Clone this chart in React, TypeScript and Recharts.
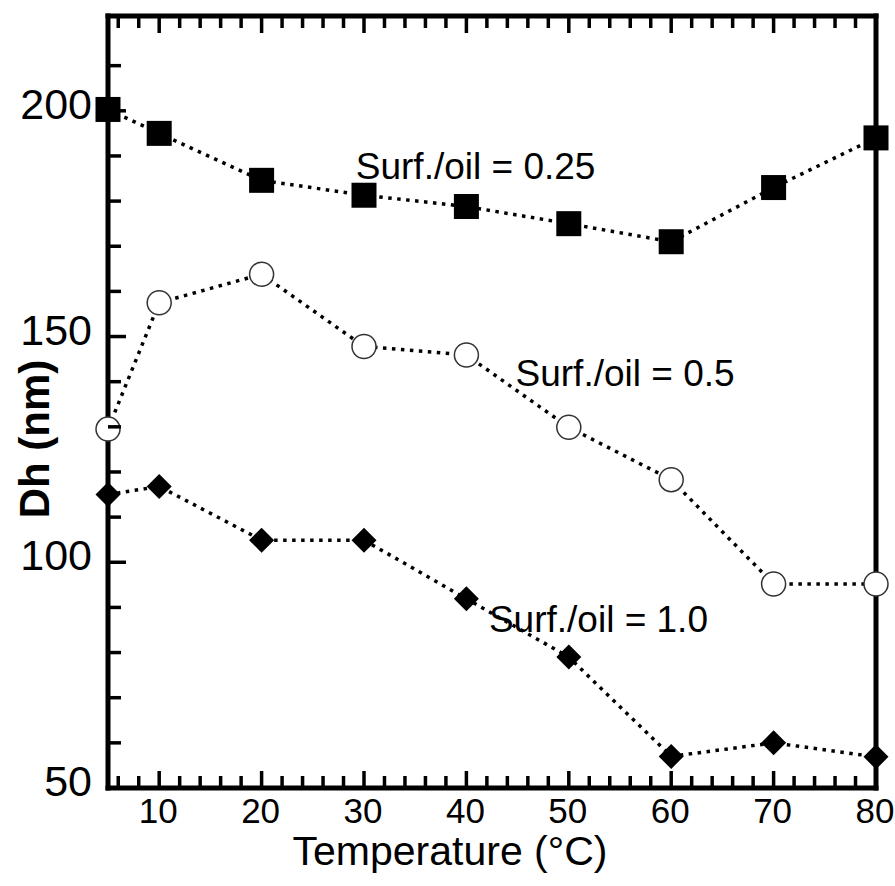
import React from 'react';
import { LineChart, Line, XAxis, YAxis, ReferenceDot } from 'recharts';

// Hydrodynamic diameter vs temperature for three surfactant/oil ratios
const temperatures = [5, 10, 20, 30, 40, 50, 60, 70, 80];
const dhRatio025 = [200.3, 195, 184.6, 181.3, 178.8, 175, 171, 183, 194];
const dhRatio05 = [129.5, 157.5, 163.8, 147.8, 145.9, 129.9, 118.3, 95.2, 95.2];
const dhRatio10 = [115, 116.8, 104.9, 104.9, 91.9, 79, 57, 60, 56.9];

const xTicks = [6, 8, 10, 12, 14, 16, 18, 20, 22, 24, 26, 28, 30, 32, 34, 36, 38, 40, 42, 44, 46, 48, 50, 52, 54, 56, 58, 60, 62, 64, 66, 68, 70, 72, 74, 76, 78, 80];
const yTicks = [50, 60, 70, 80, 90, 100, 110, 120, 130, 140, 150, 160, 170, 180, 190, 200, 210];

const seriesLabels = ['Surf./oil = 0.25', 'Surf./oil = 0.5', 'Surf./oil = 1.0'];
const seriesLabelX = [29.2, 44.8, 42.2];
const seriesLabelY = [184.9, 139.1, 84.5];

const data = temperatures.map((t, i) => ({
  t,
  r025: dhRatio025[i],
  r05: dhRatio05[i],
  r10: dhRatio10[i],
}));

const FONT = '"Liberation Sans", Arial, Helvetica, sans-serif';
const TICK_W = 3.5;

const BottomTick = (props: any) => {
  const { x, y, payload } = props;
  const major = payload.value % 10 === 0;
  return (
    <g>
      <line x1={x} x2={x} y1={y} y2={y - (major ? 17 : 12)} stroke="#000" strokeWidth={TICK_W} />
      {major && (
        <text x={x - 1} y={y + 35} textAnchor="middle" fontSize={35} fontFamily={FONT} fill="#000">
          {payload.value}
        </text>
      )}
    </g>
  );
};

const TopTick = (props: any) => {
  const { x, y, payload } = props;
  const major = payload.value % 10 === 0;
  return <line x1={x} x2={x} y1={y} y2={y + (major ? 17 : 12)} stroke="#000" strokeWidth={TICK_W} />;
};

const LeftTick = (props: any) => {
  const { x, y, payload } = props;
  const major = payload.value % 50 === 0;
  return (
    <g>
      <line x1={x} x2={x + (major ? 18 : 13)} y1={y} y2={y} stroke="#000" strokeWidth={TICK_W} />
      {major && (
        <text x={x - 16} y={y + 8} textAnchor="end" fontSize={43} fontFamily={FONT} fill="#000">
          {payload.value}
        </text>
      )}
    </g>
  );
};

const RightTick = (props: any) => {
  const { x, y, payload } = props;
  const major = payload.value % 50 === 0;
  return <line x1={x} x2={x - (major ? 18 : 13)} y1={y} y2={y} stroke="#000" strokeWidth={TICK_W} />;
};

const squareDot = (p: any) => (
  <rect key={`sq-${p.index}`} x={p.cx - 12.5} y={p.cy - 12.5} width={25} height={25} fill="#000" />
);

const circleDot = (p: any) => (
  <circle key={`ci-${p.index}`} cx={p.cx} cy={p.cy} r={12} fill="#fff" stroke="#333" strokeWidth={1.5} />
);

const diamondDot = (p: any) => (
  <path
    key={`di-${p.index}`}
    d={`M${p.cx},${p.cy - 12.5} L${p.cx + 12.5},${p.cy} L${p.cx},${p.cy + 12.5} L${p.cx - 12.5},${p.cy} Z`}
    fill="#000"
  />
);

const axisLineStyle = { stroke: '#000', strokeWidth: 5, strokeLinecap: 'square' as const };

export default function App() {
  return (
    <div style={{ position: 'absolute', left: 0, top: 0, width: 895, height: 886, background: '#fff' }}>
      <LineChart width={895} height={886} data={data} margin={{ top: 0, right: 0, bottom: 0, left: 0 }}>
        <XAxis
          xAxisId="bottom"
          dataKey="t"
          type="number"
          domain={[5, 80]}
          ticks={xTicks}
          interval={0}
          height={98}
          tickSize={0}
          tickMargin={0}
          tickLine={false}
          axisLine={axisLineStyle}
          tick={<BottomTick />}
          label={{
            content: (lp: any) => {
              const vb = lp.viewBox;
              return (
                <text x={vb.x + vb.width / 2 - 42} y={vb.y + 77} textAnchor="middle" fontSize={41} fontFamily={FONT} fill="#000">
                  Temperature (°C)
                </text>
              );
            },
          }}
        />
        <XAxis
          xAxisId="top"
          orientation="top"
          dataKey="t"
          type="number"
          domain={[5, 80]}
          ticks={xTicks}
          interval={0}
          height={16}
          tickSize={0}
          tickMargin={0}
          tickLine={false}
          axisLine={axisLineStyle}
          tick={<TopTick />}
        />
        <YAxis
          yAxisId="left"
          type="number"
          domain={[50, 221]}
          ticks={yTicks}
          interval={0}
          width={108}
          tickSize={0}
          tickMargin={0}
          tickLine={false}
          axisLine={axisLineStyle}
          tick={<LeftTick />}
          label={{
            content: (lp: any) => {
              const vb = lp.viewBox;
              const cx = vb.x + 34;
              const cy = vb.y + vb.height / 2 + 37;
              return (
                <text
                  x={cx}
                  y={cy}
                  transform={`rotate(-90 ${cx} ${cy})`}
                  textAnchor="middle"
                  dominantBaseline="central"
                  fontSize={42}
                  fontWeight="bold"
                  fontFamily={FONT}
                  fill="#000"
                >
                  Dh (nm)
                </text>
              );
            },
          }}
        />
        <YAxis
          yAxisId="right"
          orientation="right"
          type="number"
          domain={[50, 221]}
          ticks={yTicks}
          interval={0}
          width={19}
          tickSize={0}
          tickMargin={0}
          tickLine={false}
          axisLine={axisLineStyle}
          tick={<RightTick />}
        />
        <Line
          xAxisId="bottom"
          yAxisId="left"
          dataKey="r025"
          type="linear"
          stroke="#000"
          strokeWidth={3.5}
          strokeDasharray="3.5 5.5"
          dot={squareDot}
          activeDot={false}
          isAnimationActive={false}
        />
        <Line
          xAxisId="bottom"
          yAxisId="left"
          dataKey="r05"
          type="linear"
          stroke="#000"
          strokeWidth={3.5}
          strokeDasharray="3.5 5.5"
          dot={circleDot}
          activeDot={false}
          isAnimationActive={false}
        />
        <Line
          xAxisId="bottom"
          yAxisId="left"
          dataKey="r10"
          type="linear"
          stroke="#000"
          strokeWidth={3.5}
          strokeDasharray="3.5 5.5"
          dot={diamondDot}
          activeDot={false}
          isAnimationActive={false}
        />
        {seriesLabels.map((label, i) => (
          <ReferenceDot
            key={label}
            xAxisId="bottom"
            yAxisId="left"
            x={seriesLabelX[i]}
            y={seriesLabelY[i]}
            r={0}
            ifOverflow="visible"
            shape={(p: any) => (
              <text x={p.cx} y={p.cy} fontSize={37} fontFamily={FONT} fill="#000">
                {label}
              </text>
            )}
          />
        ))}
      </LineChart>
    </div>
  );
}
